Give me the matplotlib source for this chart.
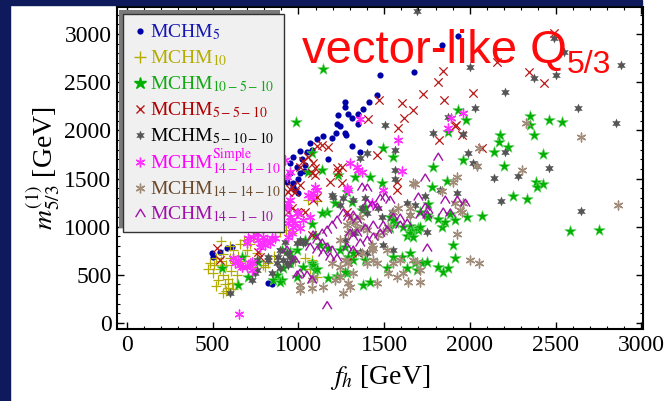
import matplotlib
matplotlib.use("Agg")
import matplotlib.pyplot as plt
from matplotlib.patches import Rectangle
from matplotlib.path import Path
from matplotlib.lines import Line2D
from matplotlib.ticker import MultipleLocator

plt.rcParams['font.family'] = ['Liberation Serif', 'DejaVu Serif']
plt.rcParams['mathtext.fontset'] = 'stix'

# ---------------- data ----------------
mchm5 = [(1933,2976),(1840,2883),(1676,2603),(1478,2572),(1460,2364),(1413,2292),(1378,2219),
         (1273,2292),(1273,2240),(1232,2157),(1290,2167),(1314,2126),(1349,2167),(1349,2064),
         (1226,2064),(1240,2043),(1273,1970),(1280,1950),(1220,1975),(1145,1940),(1197,1918),
         (1314,1835),(1413,1877),(1174,1700),(1080,1794),(1051,1773),(1010,1784),(970,1721),
         (952,1659),(993,1618),(1010,1556),(970,1452),(934,1462),(970,1410),(1110,1908),
         (1069,1867),(1361,1773),(1000,1500),(1030,1580),(1040,1640),(1020,1700),(1000,1350),
         (980,1380),(950,1560),(496,726),(500,684),(543,736),(584,778),(613,788),(823,415),(847,404)]
mchm10 = [(470,560),(485,620),(500,520),(510,600),(520,680),(530,450),(545,560),(550,640),(560,500),
          (560,720),(570,400),(575,330),(560,311),(580,600),(590,460),(600,680),(605,540),(615,420),
          (620,760),(630,620),(640,500),(650,700),(660,820),(670,580),(680,860),(690,640),(700,760),
          (720,820),(730,580),(759,726),(794,600),(823,622),(808,580),(860,700),(893,940),(930,964),
          (964,933),(1057,1275),(1110,1265),(1080,653),(1110,477),(520,380),(590,360),(640,420),
          (690,700),(740,900),(600,800),(550,850),(1040,680),(1070,560),(980,640),(620,350)]
mchm10_5_10 = [(1933,2209),(1980,2105),(1875,1981),(1962,1690),(1787,1618),(1869,1473),(1781,1410),
               (1758,1234),(1711,1151),(1752,1120),(1653,1006),(1664,954),(1700,985),(1635,902),
               (1816,1078),(1840,995),(1857,1047),(1886,1130),(1916,1068),(1986,1099),(2073,1110),
               (1904,809),(1916,674),(1606,684),(1635,570),(1682,622),(1723,622),(1816,580),(1845,529),
               (1875,570),(2178,1950),(2172,1877),(2143,1773),(2225,1825),(2202,1628),(2353,2147),
               (2353,2053),(2377,1950),(2459,2105),(2535,2084),(2429,1753),(2383,1462),(2394,1410),
               (2424,1441),(2254,1317),(2336,1286),(2587,954),(2756,964),
               (1145,2634),(987,2084),(1080,1763),(1139,1587),(1232,1535),(1331,1514),(1419,1514),
               (1489,1452),(1495,1815),(1553,1721),(1285,1358),(1215,1244),(1314,1255),(1372,1172),
               (1390,1203),(1168,1151),(1139,1141),(1080,1027),(1040,861),(1098,913),(993,757),
               (952,736),(905,757),(1127,809),(1174,778),(1244,757),(1273,788),(1290,684),(1390,653),
               (1320,653),(1174,467),(1226,487),(1285,518),(1378,394),(1419,425),(1518,570),(1553,684),
               (1536,985),(1565,1037),(1612,995),(1536,1099),(1553,1068),(1653,933),(1670,892),
               (1700,964),(1711,995),(1758,1099),(1653,726),(1694,550),(1752,632),(1080,622),
               (1098,550),(1028,580),(952,622),(911,570),(876,498),(853,446),(905,446),(765,632),
               (707,477),(648,394),(555,570),(672,684),(1057,1566),
               (894,425),(993,477),(1086,601),(1110,560),(1273,529),(1320,726)]
mchm5_5_10 = [(2160,2707),(2347,2603),(2435,2489),(1845,2613),(1816,2500),(1729,2375),(2020,2385),
              (1851,2313),(1606,2281),(1670,2209),(1618,2126),(1583,2022),(1472,2313),(1407,2115),
              (1916,2043),(1956,1950),(1822,1898),(2073,1815),(1460,1742),(1577,1462),(1577,1379),
              (1174,1825),(1139,1846),(1110,1835),(1226,1607),(1186,1462),(1256,1452),(1086,1659),
              (1098,1607),(1028,1680),(1010,1618),(952,1390),(940,1358),(1256,1618),(1232,1566),
              (1080,1556),(1098,1535),(1057,1721),(964,1410),(981,1358),(1010,1431),(1086,1275),
              (1110,1307),(1040,1151),(1010,1141),(993,1151),(964,1193),(940,1151),(526,778),
              (543,653),(765,736),(777,684),(1285,1151),(1302,1099),(1080,913),(1285,632),(1349,726),
              (1921,2053),(2490,3010)]
mchm5_10_10 = [(1694,3235),(2488,2955),(2552,2810),(2879,2675),(2003,2655),(2377,2541),(2505,2572),
               (2208,2396),(2032,2230),(2628,2230),(2850,2074),(1875,2136),(1507,2053),(1787,1970),
               (1991,1763),(2208,1773),(2020,1659),(2459,1607),(2143,1504),(1565,1493),(1927,1348),
               (1740,1317),(1361,1711),(1402,1763),(1565,1794),(1962,1960),(2044,1628),(2283,1525),
               (2184,1265),(2651,1161),(1828,1379),(1635,1244),(1752,944),(1653,1120),(1197,1327),
               (1244,1224),(1203,1307),(1261,1296),(1390,1296),(1466,1193),(1489,1099),(1010,861),
               (1028,830),(993,830),(934,726),(952,684),(911,653),(970,653),(934,622),(876,622),
               (894,570),(847,518),(748,518),(730,446),(823,653),(602,311),(759,653),(1361,736),
               (1402,726),(1273,861),(1314,944),(1331,933),(1548,1151),
               (923,840),(894,757),(882,684),(940,601),(759,550),(823,684),(1040,840),(1372,1193),
               (1402,1141),(1320,1275),(1565,1587),(1682,1224),(1495,809),(1553,757)]
mchm14_14_10_simple = [(1583,1898),(1606,1576),(1361,2115),(1349,1587),(1372,1566),(1343,1618),
                       (1285,1400),(1290,1379),(1302,1659),(1098,1410),(1110,1379),(1086,1348),
                       (1080,1307),(1057,1327),(940,1244),(934,1193),(952,1099),(940,1037),(981,1037),
                       (964,1068),(970,995),(998,1141),(794,892),(818,861),(788,840),(835,830),(806,809),
                       (847,882),(765,861),(736,892),(707,882),(777,788),(619,674),(648,653),(630,622),
                       (672,580),(718,622),(701,580),(730,550),(934,1514),(923,1690),(654,93),(1431,1244),
                       (1495,1379),(1962,2178),(1892,2126),(1875,2022),(952,1275),(993,1141),(1028,1068),
                       (1069,1099),(952,1566),(660,601),(730,632),
                       (934,1203),(1010,985),(964,933),(940,892),(759,933),(794,830),(864,882),(700,830)]
mchm14_14_10 = [(2330,2074),(2646,1929),(2862,1224),(2307,1587),(2056,1815),(2044,1628),(1927,1514),
                (1904,1462),(1840,1369),(1682,1441),(1916,1244),(1956,1151),(1927,923),(2056,622),
                (1694,632),(1711,550),(1612,518),(1641,425),(1711,425),(1653,1120),(1653,1193),
                (1583,1193),(1524,995),(1495,944),(1361,1099),(1331,1037),(1314,1068),(1378,995),
                (1343,985),(1285,1016),(1290,933),(1244,861),(1431,809),(1437,778),(1372,726),
                (1273,653),(1290,622),(1197,622),(1244,580),(1080,446),(1010,394),(1010,342),
                (1080,363),(1145,373),(1215,446),(1261,311),(1302,373),(1460,415),(1553,622),
                (1437,653),(1460,622),(1962,1244),(1945,1172),(2003,653),(1290,415),(1524,518),(1577,477),
                (1670,1452),(1553,1151),(1402,964),(1466,913),(1431,757),(1518,757),(1594,653),
                (1670,653),(1402,622),(1320,518),(1244,477),(1086,477)]
mchm14_1_10 = [(1816,1721),(1740,1504),(1857,1275),(1927,1275),(1974,1244),(1711,1120),(1752,1120),
               (1758,1172),(1845,1151),(1886,1141),(1752,778),(1168,180),(1478,1296),(1507,1307),
               (1536,1275),(1402,1244),(1431,1224),(1460,1203),(1261,1141),(1290,1099),(1320,1120),
               (1343,1068),(1226,1068),(1197,1016),(1168,964),(1139,933),(1086,913),(1110,861),
               (1139,830),(1168,788),(1197,757),(1069,788),(1110,757),(1145,726),(1186,684),(1226,674),
               (1010,518),(1051,498),(1285,788),(1320,757),(1361,830),(1402,861),(1437,892),(1478,933),
               (1518,964),(1495,1016),(1553,1099),(1594,1089),(1635,1037),(1343,933),(1390,985),
               (1437,1016),(981,653),(934,757),(1080,446),(993,498),(1700,1307),(1740,1203),(1594,1016),
               (1372,1410),(1402,1400),(1302,933),(1320,892)]

labels = [r'MCHM$_{5}$', r'MCHM$_{10}$', r'MCHM$_{10-5-10}$', r'MCHM$_{5-5-10}$',
          r'MCHM$_{5-10-10}$', r'MCHM$^{\mathrm{Simple}}_{14-14-10}$',
          r'MCHM$_{14-14-10}$', r'MCHM$_{14-1-10}$']
xticks = [0, 500, 1000, 1500, 2000, 2500, 3000]
yticks = [0, 500, 1000, 1500, 2000, 2500, 3000]

# ---------------- styles ----------------
caret = Path([(-0.8, -0.6), (0, 0.7), (0.8, -0.6)], [Path.MOVETO, Path.LINETO, Path.LINETO])
series = [mchm5, mchm10, mchm10_5_10, mchm5_5_10, mchm5_10_10,
          mchm14_14_10_simple, mchm14_14_10, mchm14_1_10]
styles = [
    dict(marker='o', s=20, c='#0000a8', linewidths=0),
    dict(marker='+', s=60, c='#b4ac00', linewidths=0.9),
    dict(marker='*', s=75, c='#00b000', edgecolors='#60d060', linewidths=0.4),
    dict(marker='x', s=36, c='#b81818', linewidths=0.9),
    dict(marker=(6, 1, 0), s=50, c='#555555', linewidths=0),
    dict(marker=(6, 2, 0), s=40, c='#ff30ff', linewidths=1.0),
    dict(marker=(6, 2, 0), s=40, c='#a08c78', linewidths=1.0),
    dict(marker=caret, s=45, facecolors='none', edgecolors='#a010a8', linewidths=1.0),
]
label_colors = ['#1515b5', '#b4ac00', '#12a812', '#b00000', '#000000', '#ff00ff', '#6a4a2a', '#a010a8']

W, H = 666, 401
fig = plt.figure(figsize=(W/100, H/100), dpi=100)
fig.patch.set_facecolor('white')
navy = '#0f1a5c'
fig.patches.append(Rectangle((0, 0), 10/W, 1, transform=fig.transFigure, color=navy, zorder=0))
fig.patches.append(Rectangle((0, 1-5/H), 642/W, 5/H, transform=fig.transFigure, color=navy, zorder=0))

ax = fig.add_axes([117/W, 1-329/H, (643-117)/W, (329-7)/H])
for pts, st in zip(series, styles):
    xs = [p[0] for p in pts]
    ys = [p[1] for p in pts]
    ax.scatter(xs, ys, **st)

ax.set_xlim(-58, 3010)
ax.set_ylim(-62, 3280)
ax.set_xticks(xticks)
ax.set_yticks(yticks)
ax.xaxis.set_minor_locator(MultipleLocator(100))
ax.yaxis.set_minor_locator(MultipleLocator(100))
ax.tick_params(which='both', direction='in', top=True, right=True, colors='black')
ax.tick_params(which='major', length=5, width=1.0, labelsize=17, pad=4)
ax.tick_params(which='minor', length=2.5, width=0.8)
for sp in ax.spines.values():
    sp.set_linewidth(1.5)
ax.set_xlabel(r'$f_h$ [GeV]', fontsize=20, labelpad=5)
ax.set_ylabel(r'$m^{(1)}_{5/3}$ [GeV]', fontsize=20, labelpad=2)

# title text
fig.text(302/W, 1-63/H, 'vector-like Q', color='#ff0a0a', fontsize=34,
         family='Liberation Sans', va='baseline', ha='left')
fig.text(567/W, 1-73/H, '5/3', color='#ff0a0a', fontsize=23,
         family='Liberation Sans', va='baseline', ha='left')

# manual legend
fig.patches.append(Rectangle((119/W, 1-228/H), (280-119)/W, (228-10)/H, transform=fig.transFigure,
                             facecolor='#7a7a7a', edgecolor='none', zorder=5))
fig.patches.append(Rectangle((123/W, 1-232/H), (284-123)/W, (232-14)/H, transform=fig.transFigure,
                             facecolor='#f0f0f0', edgecolor='#333333', linewidth=1.0, zorder=6))
baselines = [37, 63, 89, 115, 141, 168, 194, 219]
for i, (lab, st, lc) in enumerate(zip(labels, styles, label_colors)):
    yb = baselines[i]
    ym = yb - 6
    mk = st['marker']
    col = st.get('c', st.get('edgecolors'))
    kw = dict(transform=fig.transFigure, linestyle='none', marker=mk, zorder=7)
    msz = {0: 4.5, 1: 8, 2: 9, 3: 6, 4: 7, 5: 7, 6: 7, 7: 7}[i]
    if i == 7:
        ln = Line2D([140/W], [1-ym/H], markersize=msz, markerfacecolor='none',
                    markeredgecolor=col, markeredgewidth=1.0, **kw)
    elif i in (0, 4):
        ln = Line2D([140/W], [1-ym/H], markersize=msz, color=col, markeredgewidth=0, **kw)
    else:
        ln = Line2D([140/W], [1-ym/H], markersize=msz, color=col, markeredgewidth=1.0, **kw)
    fig.lines.append(ln)
    fig.text(150/W, 1-yb/H, lab, color=lc, fontsize=14, va='baseline', ha='left', zorder=7)

fig.savefig('out.png', dpi=100)
